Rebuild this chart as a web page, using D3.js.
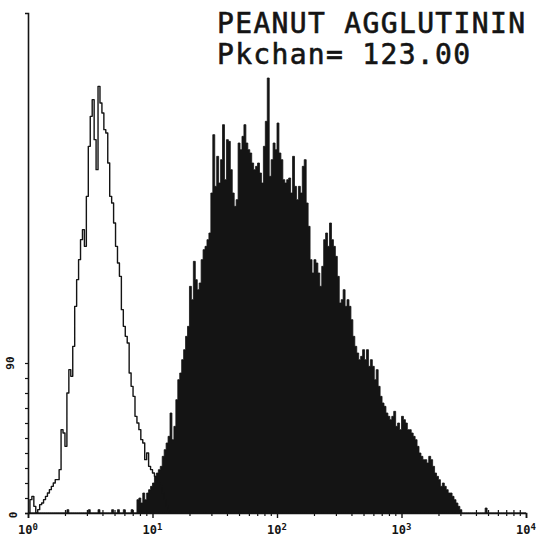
<!DOCTYPE html>
<html>
<head>
<meta charset="utf-8">
<script src="https://cdn.jsdelivr.net/npm/d3@7"></script>
<style>
  html, body { margin: 0; padding: 0; background: #fff; }
  svg { display: block; }
</style>
</head>
<body>
<svg id="chart" width="540" height="537"></svg>
<script>
// ---------- data ----------
const titleLines = ["PEANUT AGGLUTININ", "Pkchan= 123.00"];
const xTickValues = [1, 10, 100, 1000, 10000];
const xTickExponents = ["0", "1", "2", "3", "4"];
const yTickLabels = [[0, "0"], [90, "90"]];
const channelsPerDecade = 64;   // 256 channels over 4 decades

// control (open) histogram, counts per channel starting at channel 1
const openStart = 1;
const openCounts = [8, 10, 4, 0, 2, 5, 6, 8, 10, 12, 14, 16, 18, 20, 20, 26, 50, 48, 40, 72,
  86, 82, 100, 124, 140, 152, 164, 170, 160, 190, 220, 238, 248, 224, 206, 256, 246, 240, 230, 228,
  210, 190, 186, 174, 160, 150, 142, 122, 112, 106, 102, 84, 76, 70, 58, 54, 50, 44, 42, 32,
  36, 28, 26, 24, 22, 20, 18, 16, 12, 8, 4, 2, 0];

// peanut agglutinin (filled) histogram, counts per channel starting at channel 56
const filledStart = 56;
const filledCounts = [8, 9, 6, 12, 8, 12, 14, 16, 18, 22, 24, 26, 28, 34, 38, 42, 46, 60, 44, 52,
  68, 80, 84, 92, 98, 106, 112, 136, 128, 151, 140, 134, 138, 152, 158, 160, 164, 168, 192, 227,
  196, 214, 198, 212, 233, 200, 224, 223, 206, 192, 184, 188, 222, 218, 226, 233, 222, 218, 216, 210,
  206, 208, 210, 204, 198, 220, 235, 261, 202, 212, 222, 218, 234, 216, 212, 200, 198, 200, 201, 192,
  214, 196, 188, 196, 192, 208, 212, 186, 172, 152, 144, 152, 150, 144, 136, 148, 164, 168, 160, 174,
  164, 160, 154, 142, 126, 128, 134, 124, 128, 124, 116, 106, 100, 96, 92, 94, 98, 92, 98, 88,
  92, 88, 80, 86, 76, 70, 66, 64, 60, 58, 56, 58, 61, 52, 54, 50, 58, 56, 54, 50,
  50, 48, 46, 44, 40, 36, 34, 32, 32, 30, 34, 32, 28, 24, 22, 20, 16, 18, 16, 14,
  12, 12, 10, 8, 6, 4, 2];
// isolated events outside the main filled peak: [channel, count]
const filledSparseChannels = [20, 31, 36, 43, 46, 49, 53, 235];
const filledSparseCounts = [2, 2, 2, 2, 2, 2, 2, 3];

// ---------- build full channel arrays ----------
const nChannels = 256;
const openFull = new Array(nChannels).fill(0);
openCounts.forEach((v, i) => { openFull[openStart + i] = v; });
const filledFull = new Array(nChannels).fill(0);
filledCounts.forEach((v, i) => { filledFull[filledStart + i] = v; });
filledSparseChannels.forEach((c, i) => { filledFull[c] = filledSparseCounts[i]; });

const chanVal = c => Math.pow(10, c / channelsPerDecade);

// ---------- layout ----------
const svg = d3.select("#chart");
const x = d3.scaleLog().domain([1, 10000]).range([28, 526]);
const y = d3.scaleLinear().domain([0, 300]).range([513, 13]);

const ink = "#141414";

// filled histogram
const filledPts = d3.range(nChannels + 1).map(c => ({c, v: c < nChannels ? filledFull[c] : 0}));
const area = d3.area()
  .curve(d3.curveStepAfter)
  .x(d => x(chanVal(d.c)))
  .y0(y(0))
  .y1(d => y(d.v));
svg.append("path")
  .attr("d", area(filledPts))
  .attr("fill", ink)
  .attr("stroke", ink)
  .attr("stroke-width", 0.8);

// open histogram
const openPts = d3.range(0, 90).map(c => ({c, v: openFull[c]}));
const line = d3.line()
  .curve(d3.curveStepAfter)
  .x(d => x(chanVal(d.c)))
  .y(d => y(d.v));
svg.append("path")
  .attr("d", line(openPts))
  .attr("fill", "none")
  .attr("stroke", ink)
  .attr("stroke-width", 1.4)
  .attr("stroke-linejoin", "round");

// ---------- axes ----------
const gx = svg.append("g").attr("transform", `translate(0,${y(0)})`);
gx.call(d3.axisBottom(x).tickValues(xTickValues).tickSize(5).tickFormat(() => ""));
gx.select(".domain").attr("stroke", ink).attr("stroke-width", 1.6);
gx.selectAll(".tick line").attr("stroke", ink).attr("stroke-width", 1.4);

// minor log ticks
const minorVals = [];
for (let d = 0; d < 4; d++) for (let k = 2; k <= 9; k++) minorVals.push(k * Math.pow(10, d));
gx.selectAll(".minor").data(minorVals).enter().append("line")
  .attr("x1", d => x(d)).attr("x2", d => x(d))
  .attr("y1", -3).attr("y2", 3)
  .attr("stroke", ink).attr("stroke-width", 1.2);

// x labels 10^n
gx.selectAll(".xl").data(xTickValues).enter().append("text")
  .attr("x", d => x(d))
  .attr("y", 21)
  .attr("text-anchor", "middle")
  .attr("font-family", "DejaVu Sans Mono, monospace")
  .attr("font-size", 12)
  .attr("font-weight", "bold")
  .attr("fill", ink)
  .each(function (d, i) {
    const t = d3.select(this);
    t.append("tspan").text("10");
    t.append("tspan").attr("dy", -4).attr("font-size", 9).text(xTickExponents[i]);
  });

const gy = svg.append("g").attr("transform", `translate(${x(1)},0)`);
gy.call(d3.axisLeft(y).tickValues(d3.range(0, 91, 9)).tickSize(3).tickFormat(() => ""));
gy.select(".domain").attr("stroke", ink).attr("stroke-width", 1.6);
gy.selectAll(".tick line").attr("stroke", ink).attr("stroke-width", 1.2);

gy.selectAll(".yl").data(yTickLabels).enter().append("text")
  .attr("transform", d => `translate(${d[0] === 0 ? -11 : -14},${y(d[0]) + (d[0] === 0 ? 2 : 0)}) rotate(-90)`)
  .attr("text-anchor", "middle")
  .attr("font-family", "DejaVu Sans Mono, monospace")
  .attr("font-size", 11)
  .attr("font-weight", "bold")
  .attr("fill", ink)
  .text(d => d[1]);

// ---------- title ----------
const titleLens = [308, 253];
const titleY = [33, 64];
titleLines.forEach((s, i) => {
  svg.append("text")
    .attr("x", 217)
    .attr("y", titleY[i])
    .attr("font-family", "DejaVu Sans Mono, monospace")
    .attr("font-size", 28)
    .attr("textLength", titleLens[i])
    .attr("lengthAdjust", "spacing")
    .attr("fill", ink)
    .attr("stroke", ink)
    .attr("stroke-width", 0.6)
    .text(s);
});
</script>
</body>
</html>
